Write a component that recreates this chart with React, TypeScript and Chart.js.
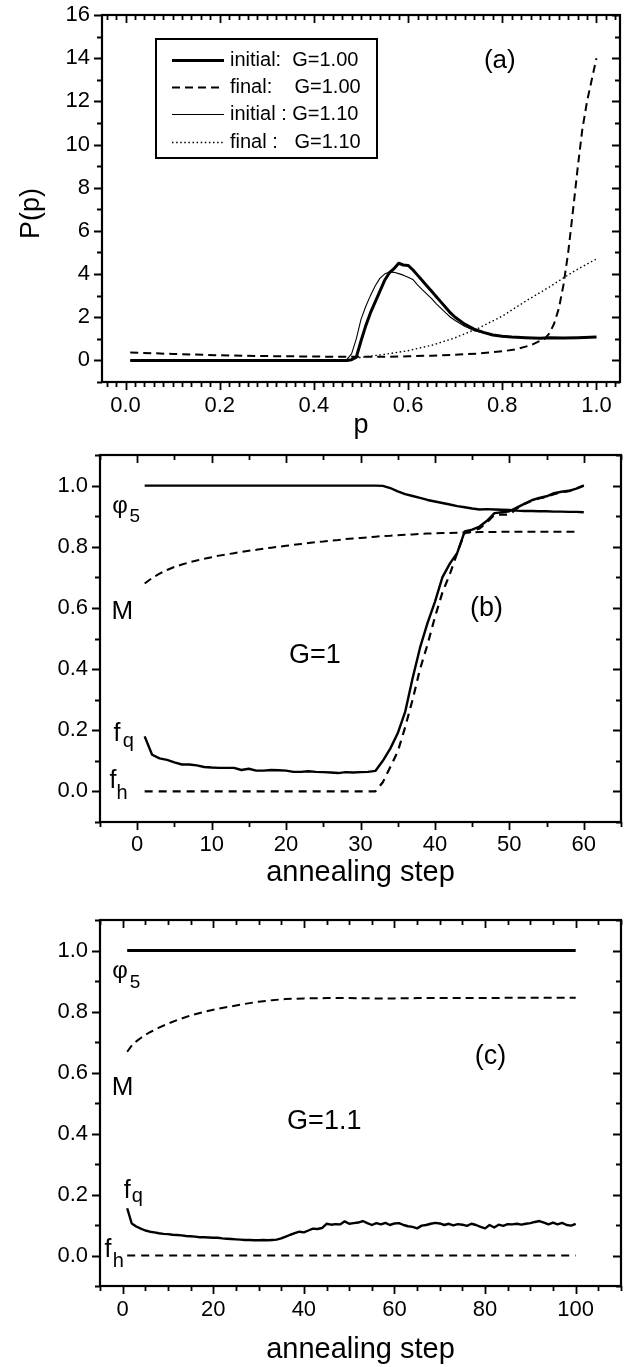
import React, { useEffect, useRef } from 'react';
import { Chart, registerables } from 'chart.js';

Chart.register(...registerables);

const FONT = '"Liberation Sans", Arial, Helvetica, sans-serif';
const BLACK = '#000000';

// ---------------- Panel (a): P(p) vs p ----------------
const A_X_TICKS = [0, 0.2, 0.4, 0.6, 0.8, 1.0];
const A_Y_TICKS = [0, 2, 4, 6, 8, 10, 12, 14, 16];
const A_LABELS = ['initial:  G=1.00', 'final:    G=1.00', 'initial : G=1.10', 'final :   G=1.10'];

const A_INIT_100_P = [0.01, 0.47, 0.48, 0.49, 0.50, 0.51, 0.52, 0.53, 0.54, 0.55, 0.56, 0.57, 0.58, 0.59, 0.60, 0.61, 0.62, 0.63, 0.64, 0.65, 0.66, 0.67, 0.68, 0.69, 0.70, 0.72, 0.74, 0.76, 0.78, 0.80, 0.82, 0.85, 0.88, 0.90, 0.93, 0.96, 1.00];
const A_INIT_100_V = [0, 0, 0.03, 0.15, 0.9, 1.6, 2.2, 2.7, 3.2, 3.7, 4.05, 4.25, 4.5, 4.42, 4.4, 4.2, 3.95, 3.7, 3.45, 3.2, 2.95, 2.7, 2.45, 2.2, 2.0, 1.68, 1.45, 1.3, 1.18, 1.12, 1.08, 1.05, 1.03, 1.05, 1.04, 1.05, 1.08];

const A_FINAL_100_P = [0.01, 0.1, 0.2, 0.3, 0.4, 0.45, 0.5, 0.55, 0.6, 0.65, 0.7, 0.75, 0.8, 0.83, 0.86, 0.88, 0.89, 0.90, 0.91, 0.92, 0.93, 0.94, 0.95, 0.96, 0.97, 0.98, 0.99, 1.00];
const A_FINAL_100_V = [0.37, 0.3, 0.24, 0.2, 0.18, 0.17, 0.17, 0.17, 0.19, 0.22, 0.26, 0.32, 0.42, 0.52, 0.7, 0.9, 1.0, 1.25, 1.7, 2.4, 3.5, 5.0, 6.9, 8.9, 10.7, 12.0, 13.0, 14.0];

const A_INIT_110_P = [0.01, 0.46, 0.47, 0.48, 0.49, 0.50, 0.51, 0.52, 0.53, 0.54, 0.55, 0.56, 0.57, 0.58, 0.59, 0.60, 0.61, 0.62, 0.63, 0.64, 0.65, 0.66, 0.67, 0.68, 0.69, 0.70, 0.72, 0.74, 0.76, 0.78, 0.80, 0.85, 0.90, 0.95, 1.00];
const A_INIT_110_V = [0, 0, 0.05, 0.3, 1.0, 1.9, 2.5, 3.0, 3.45, 3.8, 4.0, 4.1, 4.08, 4.02, 3.95, 3.85, 3.75, 3.5, 3.28, 3.07, 2.86, 2.62, 2.41, 2.2, 2.0, 1.85, 1.58, 1.38, 1.27, 1.17, 1.1, 1.05, 1.04, 1.05, 1.07];

const A_FINAL_110_P = [0.47, 0.5, 0.55, 0.6, 0.65, 0.7, 0.75, 0.8, 0.85, 0.9, 0.95, 1.0];
const A_FINAL_110_V = [0.05, 0.14, 0.28, 0.45, 0.7, 1.05, 1.5, 2.05, 2.75, 3.4, 4.1, 4.7];

// ---------------- Panel (b): G = 1 ----------------
const B_X_TICKS = [0, 10, 20, 30, 40, 50, 60];
const BC_Y_TICKS = [0.0, 0.2, 0.4, 0.6, 0.8, 1.0];
const B_STEPS = [1, 2, 3, 4, 5, 6, 7, 8, 9, 10, 11, 12, 13, 14, 15, 16, 17, 18, 19, 20, 21, 22, 23, 24, 25, 26, 27, 28, 29, 30, 31, 32, 33, 34, 35, 36, 37, 38, 39, 40, 41, 42, 43, 44, 45, 46, 47, 48, 49, 50, 51, 52, 53, 54, 55, 56, 57, 58, 59, 60];
const B_PHI5 = [1, 1, 1, 1, 1, 1, 1, 1, 1, 1, 1, 1, 1, 1, 1, 1, 1, 1, 1, 1, 1, 1, 1, 1, 1, 1, 1, 1, 1, 1, 1, 1, 0.999, 0.992, 0.981, 0.972, 0.966, 0.96, 0.953, 0.948, 0.943, 0.938, 0.933, 0.929, 0.925, 0.922, 0.923, 0.922, 0.921, 0.92, 0.918, 0.917, 0.917, 0.916, 0.916, 0.915, 0.915, 0.914, 0.914, 0.913];
const B_M = [0.68, 0.698, 0.712, 0.724, 0.734, 0.742, 0.749, 0.755, 0.761, 0.766, 0.771, 0.775, 0.779, 0.783, 0.787, 0.79, 0.794, 0.797, 0.8, 0.803, 0.806, 0.809, 0.812, 0.815, 0.817, 0.82, 0.822, 0.825, 0.827, 0.829, 0.831, 0.833, 0.835, 0.836, 0.838, 0.839, 0.84, 0.842, 0.843, 0.844, 0.845, 0.845, 0.846, 0.847, 0.847, 0.848, 0.848, 0.848, 0.849, 0.849, 0.849, 0.849, 0.849, 0.849, 0.849, 0.849, 0.849, 0.849, 0.849, null];
const B_FQ = [0.18, 0.12, 0.108, 0.103, 0.095, 0.088, 0.088, 0.085, 0.08, 0.078, 0.077, 0.077, 0.077, 0.07, 0.074, 0.068, 0.068, 0.07, 0.069, 0.068, 0.064, 0.064, 0.066, 0.064, 0.063, 0.062, 0.06, 0.063, 0.062, 0.063, 0.064, 0.067, 0.1, 0.14, 0.19, 0.26, 0.37, 0.47, 0.55, 0.62, 0.7, 0.745, 0.78, 0.85, 0.856, 0.866, 0.885, 0.91, 0.913, 0.916, 0.928, 0.94, 0.952, 0.96, 0.965, 0.975, 0.98, 0.983, 0.99, 1.0];
const B_FH = [0, 0, 0, 0, 0, 0, 0, 0, 0, 0, 0, 0, 0, 0, 0, 0, 0, 0, 0, 0, 0, 0, 0, 0, 0, 0, 0, 0, 0, 0, 0, 0, 0.03, 0.08, 0.13, 0.21, 0.3, 0.4, 0.48, 0.57, 0.65, 0.71, 0.78, 0.845, 0.85, 0.86, 0.88, 0.905, 0.905, 0.905, 0.925, 0.94, 0.95, 0.958, 0.963, 0.972, 0.978, 0.982, 0.99, 1.0];

// ---------------- Panel (c): G = 1.1 ----------------
const C_X_TICKS = [0, 20, 40, 60, 80, 100];
const C_STEPS = [1, 2, 3, 4, 5, 6, 7, 8, 9, 10, 11, 12, 13, 14, 15, 16, 17, 18, 19, 20, 21, 22, 23, 24, 25, 26, 27, 28, 29, 30, 31, 32, 33, 34, 35, 36, 37, 38, 39, 40, 41, 42, 43, 44, 45, 46, 47, 48, 49, 50, 51, 52, 53, 54, 55, 56, 57, 58, 59, 60, 61, 62, 63, 64, 65, 66, 67, 68, 69, 70, 71, 72, 73, 74, 75, 76, 77, 78, 79, 80, 81, 82, 83, 84, 85, 86, 87, 88, 89, 90, 91, 92, 93, 94, 95, 96, 97, 98, 99, 100];
const C_PHI5_X = [1, 100];
const C_PHI5 = [1.0, 1.0];
const C_M_X = [1, 2, 3, 4, 5, 6, 8, 10, 12, 15, 18, 21, 24, 27, 30, 33, 36, 40, 45, 50, 55, 60, 65, 70, 75, 80, 85, 90, 95, 100];
const C_M = [0.668, 0.688, 0.702, 0.713, 0.723, 0.732, 0.747, 0.76, 0.772, 0.787, 0.799, 0.809, 0.817, 0.825, 0.832, 0.837, 0.841, 0.843, 0.844, 0.844, 0.843, 0.843, 0.844, 0.844, 0.844, 0.844, 0.845, 0.845, 0.845, 0.845];
const C_FQ = [0.155, 0.105, 0.095, 0.088, 0.082, 0.078, 0.076, 0.073, 0.071, 0.07, 0.068, 0.067, 0.066, 0.064, 0.063, 0.062, 0.06, 0.06, 0.059, 0.058, 0.058, 0.056, 0.055, 0.054, 0.053, 0.052, 0.051, 0.051, 0.05, 0.05, 0.051, 0.05, 0.051, 0.052, 0.056, 0.062, 0.068, 0.073, 0.078, 0.076, 0.082, 0.088, 0.087, 0.09, 0.104, 0.101, 0.103, 0.102, 0.112, 0.104, 0.106, 0.108, 0.113, 0.106, 0.1, 0.106, 0.102, 0.107, 0.1, 0.105, 0.106, 0.1, 0.096, 0.094, 0.089, 0.098, 0.1, 0.104, 0.107, 0.105, 0.1, 0.104, 0.099, 0.103, 0.101, 0.097, 0.104, 0.1, 0.094, 0.089, 0.1, 0.092, 0.101, 0.097, 0.103, 0.102, 0.104, 0.101, 0.104, 0.106, 0.11, 0.113, 0.108, 0.102, 0.108, 0.102, 0.107, 0.1, 0.098, 0.104];
const C_FH_X = [1, 100];
const C_FH = [0, 0];

// ---------------- helpers ----------------
const pts = (xs: number[], ys: (number | null)[]) => xs.map((x, i) => ({ x, y: ys[i] }));

function line(label: string, data: any[], width: number, dash: number[]) {
  return {
    label,
    data,
    borderColor: BLACK,
    backgroundColor: BLACK,
    borderWidth: width,
    borderDash: dash,
    pointRadius: 0,
    tension: 0,
    fill: false,
    borderJoinStyle: 'round',
    borderCapStyle: 'butt',
    spanGaps: false,
  };
}

function minorValues(min: number, max: number, step: number, majors: number[]) {
  const out: number[] = [];
  const n = Math.round((max - min) / step);
  for (let k = 0; k <= n; k++) {
    const v = Math.round((min + k * step) * 1e6) / 1e6;
    if (!majors.some((m) => Math.abs(m - v) < 1e-9)) out.push(v);
  }
  return out;
}

function decorPlugin(p: any) {
  return {
    id: 'decor' + p.key,
    afterDatasetsDraw(chart: any) {
      const { ctx, chartArea: ca, scales } = chart;
      const xs = scales.x;
      const ys = scales.y;
      ctx.save();
      ctx.strokeStyle = BLACK;
      ctx.fillStyle = BLACK;
      ctx.setLineDash([]);
      // tick marks: bottom/left outward, top/right inward
      ctx.lineWidth = 1.8;
      ctx.beginPath();
      const xTick = (v: number, len: number) => {
        const px = Math.round(xs.getPixelForValue(v)) + 0.5;
        ctx.moveTo(px, ca.bottom);
        ctx.lineTo(px, ca.bottom + len);
        ctx.moveTo(px, ca.top);
        ctx.lineTo(px, ca.top + len);
      };
      const yTick = (v: number, len: number) => {
        const py = Math.round(ys.getPixelForValue(v)) + 0.5;
        ctx.moveTo(ca.left, py);
        ctx.lineTo(ca.left - len, py);
        ctx.moveTo(ca.right, py);
        ctx.lineTo(ca.right - len, py);
      };
      p.xTicks.forEach((v: number) => xTick(v, 8));
      minorValues(p.xMinorStart, p.xMax, p.xMinorStep, p.xTicks).forEach((v) => xTick(v, 5));
      p.yTicks.forEach((v: number) => yTick(v, 8));
      minorValues(p.yMin, p.yMax, p.yMinorStep, p.yTicks).forEach((v) => yTick(v, 5));
      ctx.stroke();
      // frame
      ctx.lineWidth = 2.2;
      ctx.strokeRect(ca.left, ca.top, ca.right - ca.left, ca.bottom - ca.top);
      // annotations (positioned in data coordinates)
      ctx.textAlign = 'left';
      ctx.textBaseline = 'alphabetic';
      (p.notes || []).forEach((n: any) => {
        ctx.font = `${n.size}px ${FONT}`;
        ctx.fillText(n.text, xs.getPixelForValue(n.x), ys.getPixelForValue(n.y));
      });
      // legend box
      if (p.legend) {
        const L = p.legend;
        const x0 = ca.left + L.dx;
        const y0 = ca.top + L.dy;
        ctx.lineWidth = 2;
        ctx.strokeRect(x0, y0, L.w, L.h);
        chart.data.datasets.forEach((ds: any, i: number) => {
          const cy = Math.round(y0 + L.firstRow + i * L.rowH) + 0.5;
          ctx.save();
          ctx.lineWidth = ds.borderWidth;
          ctx.setLineDash(ds.borderDash || []);
          ctx.beginPath();
          ctx.moveTo(x0 + L.lineX0, cy);
          ctx.lineTo(x0 + L.lineX1, cy);
          ctx.stroke();
          ctx.restore();
          ctx.font = `${L.fontSize}px ${FONT}`;
          ctx.textBaseline = 'middle';
          ctx.textAlign = 'left';
          ctx.fillText(ds.label, x0 + L.textX, cy);
        });
      }
      ctx.restore();
    },
  };
}

function makeConfig(p: any) {
  return {
    type: 'line',
    data: { datasets: p.datasets },
    options: {
      animation: false,
      responsive: false,
      devicePixelRatio: 1,
      events: [],
      layout: { padding: { left: 0, right: p.padRight, top: p.padTop, bottom: 0 } },
      plugins: { legend: { display: false }, tooltip: { enabled: false } },
      scales: {
        x: {
          type: 'linear',
          position: 'bottom',
          min: p.xMin,
          max: p.xMax,
          grid: { display: false, drawTicks: false },
          border: { display: false },
          afterBuildTicks: (s: any) => {
            s.ticks = p.xTicks.map((v: number) => ({ value: v }));
          },
          afterFit: (s: any) => {
            s.height = p.xAxisH;
            s.paddingLeft = 0;
            s.paddingRight = 0;
          },
          ticks: {
            color: BLACK,
            font: { family: FONT, size: 22 },
            padding: p.xTickPad,
            maxRotation: 0,
            minRotation: 0,
            autoSkip: false,
            callback: p.xFmt,
          },
          title: {
            display: true,
            text: p.xTitle,
            color: BLACK,
            font: { family: FONT, size: p.xTitleSize },
            padding: { top: 0, bottom: p.xTitlePad },
          },
        },
        y: {
          type: 'linear',
          position: 'left',
          min: p.yMin,
          max: p.yMax,
          grid: { display: false, drawTicks: false },
          border: { display: false },
          afterBuildTicks: (s: any) => {
            s.ticks = p.yTicks.map((v: number) => ({ value: v }));
          },
          afterFit: (s: any) => {
            s.width = p.yAxisW;
            s.paddingTop = 0;
            s.paddingBottom = 0;
          },
          ticks: {
            color: BLACK,
            font: { family: FONT, size: 22 },
            padding: 12,
            autoSkip: false,
            callback: p.yFmt,
          },
          title: {
            display: !!p.yTitle,
            text: p.yTitle || '',
            color: BLACK,
            font: { family: FONT, size: 27 },
            padding: { top: 15, bottom: 0 },
          },
        },
      },
    },
    plugins: [decorPlugin(p)],
  };
}

const PANEL_A = {
  key: 'a',
  top: 0,
  height: 450,
  padTop: 15,
  padRight: 4,
  yAxisW: 102,
  xAxisH: 68,
  xTickPad: 11,
  xTitle: 'p',
  xTitleSize: 27,
  xTitlePad: 8,
  yTitle: 'P(p)    ',
  xMin: -0.05,
  xMax: 1.05,
  yMin: -1,
  yMax: 16,
  xTicks: A_X_TICKS,
  yTicks: A_Y_TICKS,
  xMinorStart: -0.04,
  xMinorStep: 0.02,
  yMinorStep: 1,
  xFmt: (v: number) => Number(v).toFixed(1),
  yFmt: (v: number) => String(v),
  datasets: [
    line(A_LABELS[0], pts(A_INIT_100_P, A_INIT_100_V), 3, []),
    line(A_LABELS[1], pts(A_FINAL_100_P, A_FINAL_100_V), 2, [8, 5]),
    line(A_LABELS[2], pts(A_INIT_110_P, A_INIT_110_V), 1.1, []),
    line(A_LABELS[3], pts(A_FINAL_110_P, A_FINAL_110_V), 1.4, [1.5, 2.6]),
  ],
  notes: [{ x: 0.761, y: 13.56, text: '(a)', size: 26 }],
  legend: { dx: 54, dy: 24, w: 221, h: 119, firstRow: 21, rowH: 27.2, lineX0: 16, lineX1: 68, textX: 74, fontSize: 20 },
};

const PANEL_B = {
  key: 'b',
  top: 440,
  height: 450,
  padTop: 15,
  padRight: 3,
  yAxisW: 100,
  xAxisH: 68,
  xTickPad: 10,
  xTitle: 'annealing step',
  xTitleSize: 29,
  xTitlePad: 0,
  yTitle: '',
  xMin: -5,
  xMax: 65,
  yMin: -0.1,
  yMax: 1.1,
  xTicks: B_X_TICKS,
  yTicks: BC_Y_TICKS,
  xMinorStart: -5,
  xMinorStep: 5,
  yMinorStep: 0.1,
  xFmt: (v: number) => String(v),
  yFmt: (v: number) => Number(v).toFixed(1),
  datasets: [
    line('φ5', pts(B_STEPS, B_PHI5), 2.4, []),
    line('M', pts(B_STEPS, B_M), 2, [8, 5]),
    line('fq', pts(B_STEPS, B_FQ), 2.4, []),
    line('fh', pts(B_STEPS, B_FH), 2.2, [8, 6]),
  ],
  notes: [
    { x: -3.35, y: 0.911, text: 'φ', size: 24 },
    { x: -1.02, y: 0.88, text: '5', size: 19 },
    { x: -3.45, y: 0.564, text: 'M', size: 26 },
    { x: 20.4, y: 0.421, text: 'G=1', size: 27 },
    { x: 44.7, y: 0.575, text: '(b)', size: 27 },
    { x: -3.18, y: 0.166, text: 'f', size: 25 },
    { x: -1.96, y: 0.146, text: 'q', size: 20 },
    { x: -3.71, y: 0.012, text: 'f', size: 25 },
    { x: -2.77, y: -0.024, text: 'h', size: 20 },
  ],
};

const PANEL_C = {
  key: 'c',
  top: 905,
  height: 462,
  padTop: 15,
  padRight: 3,
  yAxisW: 100,
  xAxisH: 81,
  xTickPad: 11,
  xTitle: 'annealing step',
  xTitleSize: 29,
  xTitlePad: 0,
  yTitle: '',
  xMin: -5,
  xMax: 110,
  yMin: -0.1,
  yMax: 1.1,
  xTicks: C_X_TICKS,
  yTicks: BC_Y_TICKS,
  xMinorStart: -5,
  xMinorStep: 5,
  yMinorStep: 0.1,
  xFmt: (v: number) => String(v),
  yFmt: (v: number) => Number(v).toFixed(1),
  datasets: [
    line('φ5', pts(C_PHI5_X, C_PHI5), 3, []),
    line('M', pts(C_M_X, C_M), 2, [8, 5]),
    line('fq', pts(C_STEPS, C_FQ), 2.4, []),
    line('fh', pts(C_FH_X, C_FH), 2, [8, 6]),
  ],
  notes: [
    { x: -2.28, y: 0.911, text: 'φ', size: 24 },
    { x: 1.55, y: 0.877, text: '5', size: 19 },
    { x: -2.43, y: 0.526, text: 'M', size: 26 },
    { x: 77.7, y: 0.628, text: '(c)', size: 27 },
    { x: 36.3, y: 0.414, text: 'G=1.1', size: 27 },
    { x: 0.22, y: 0.19, text: 'f', size: 25 },
    { x: 1.99, y: 0.174, text: 'q', size: 20 },
    { x: -3.98, y: -0.006, text: 'f', size: 25 },
    { x: -2.2, y: -0.039, text: 'h', size: 20 },
  ],
};

function Panel({ cfg }: { cfg: any }) {
  const ref = useRef<HTMLCanvasElement | null>(null);
  useEffect(() => {
    if (!ref.current) return;
    const chart = new Chart(ref.current, makeConfig(cfg) as any);
    return () => chart.destroy();
  }, [cfg]);
  return (
    <div style={{ position: 'absolute', left: 0, top: cfg.top, width: 624, height: cfg.height }}>
      <canvas ref={ref} width={624} height={cfg.height} style={{ display: 'block', width: 624, height: cfg.height }} />
    </div>
  );
}

export default function App() {
  return (
    <div style={{ position: 'absolute', left: 0, top: 0, width: 624, height: 1367, background: '#ffffff', overflow: 'hidden' }}>
      <Panel cfg={PANEL_A} />
      <Panel cfg={PANEL_B} />
      <Panel cfg={PANEL_C} />
    </div>
  );
}
